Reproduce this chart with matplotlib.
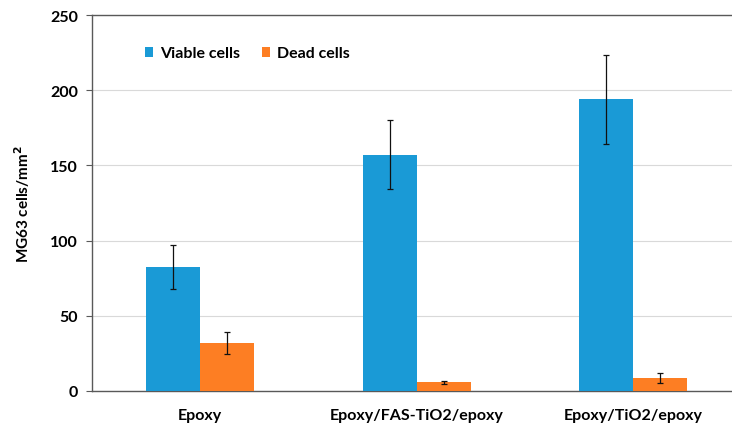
import matplotlib
matplotlib.use("Agg")
import matplotlib.pyplot as plt
import numpy as np

categories = ["Epoxy", "Epoxy/FAS-TiO2/epoxy", "Epoxy/TiO2/epoxy"]
viable = [82.5, 157, 194]
viable_err = [14.5, 23, 29.5]
dead = [32, 5.8, 8.5]
dead_err = [7.4, 1.0, 3.5]
yticks = [0, 50, 100, 150, 200, 250]
series_names = ["Viable cells", "Dead cells"]

plt.rcParams['font.family'] = ['Lato', 'DejaVu Sans']
plt.rcParams['font.weight'] = 'bold'

W, H = 732, 427
fig = plt.figure(figsize=(W/100, H/100), dpi=100)
left, right, bottom, top = 92, 732, 392, 16
ax = fig.add_axes([left/W, 1 - bottom/H, (right-left)/W, (bottom-top)/H])

x = np.arange(len(categories))
bw = 0.25
blue = '#1A9AD6'
orange = '#FD7E23'
ekw = dict(elinewidth=0.9, capthick=0.9, ecolor='#111111')
ax.bar(x - bw/2, viable, bw, color=blue, label=series_names[0],
       yerr=viable_err, capsize=2.5, error_kw=ekw, zorder=3)
ax.bar(x + bw/2, dead, bw, color=orange, label=series_names[1],
       yerr=dead_err, capsize=2.5, error_kw=ekw, zorder=3)

spacing_px = 216.5
ax.set_xlim(-0.5, -0.5 + (right - left) / spacing_px)
ax.set_ylim(0, 250)
fs = 11.5
ax.set_yticks(yticks)
ax.set_yticklabels([str(t) for t in yticks], fontsize=fs, fontweight='bold')
ax.set_xticks(x)
ax.set_xticklabels(categories, fontsize=fs, fontweight='bold')
ax.tick_params(axis='x', length=0, pad=12)
ax.tick_params(axis='y', length=4, width=0.8, color='#595959', pad=6)

ax.grid(axis='y', color='#D9D9D9', linewidth=0.8, zorder=0)
ax.spines['right'].set_visible(False)
for s in ['left', 'bottom', 'top']:
    ax.spines[s].set_color('#595959')
    ax.spines[s].set_linewidth(1.0)

ax.set_ylabel("MG63 cells/mm$^\\mathbf{2}$", fontsize=11, fontweight='bold', labelpad=13)

leg = ax.legend(loc='upper left', bbox_to_anchor=(0.06, 0.955), ncol=2, frameon=False,
                fontsize=fs, handlelength=0.5, handleheight=0.6, handletextpad=0.45,
                columnspacing=1.4)

fig.savefig("out.png", dpi=100)
